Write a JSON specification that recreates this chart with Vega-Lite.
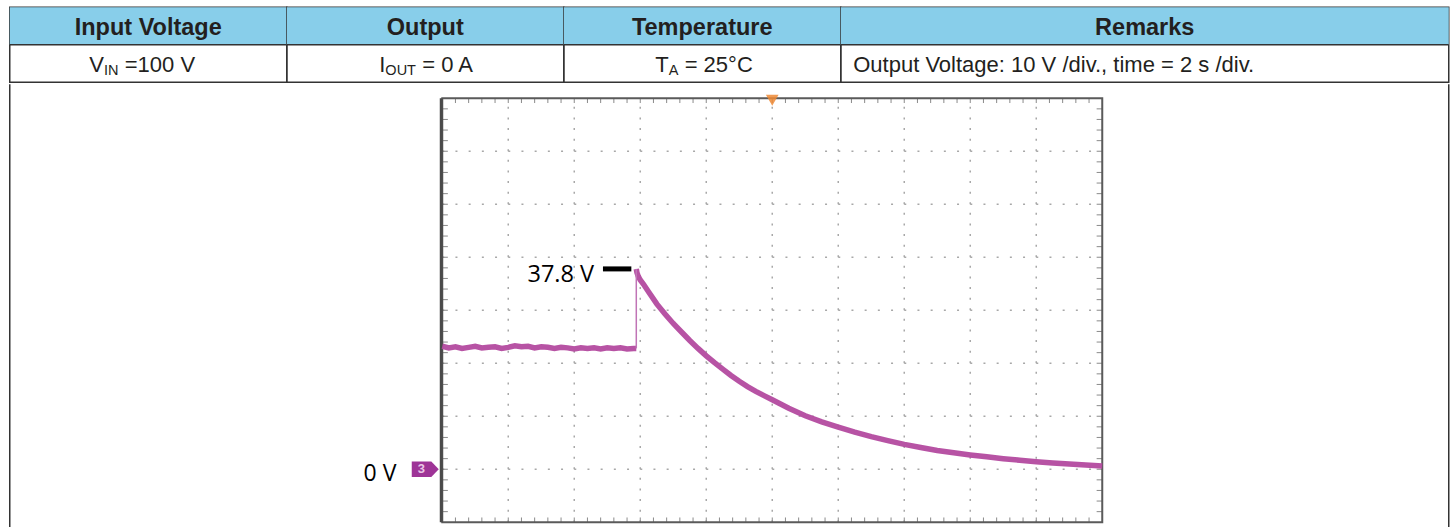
{
  "$schema": "https://vega.github.io/schema/vega-lite/v6.json",
  "padding": {"left": 7.75, "top": 6.25, "right": 0, "bottom": 0},
  "background": "white",
  "spacing": 0,
  "config": {"view": {"stroke": null}, "text": {"font": "Liberation Sans", "color": "#231f20"}},
  "datasets": {
    "table": [
      {"col": 1, "header": "Input Voltage", "main": "V", "sub": "IN", "rest": "=100 V"},
      {"col": 2, "header": "Output", "main": "I", "sub": "OUT", "rest": "= 0 A"},
      {"col": 3, "header": "Temperature", "main": "T", "sub": "A", "rest": "= 25°C"},
      {"col": 4, "header": "Remarks", "main": "Output Voltage: 10 V /div., time = 2 s /div.", "sub": "", "rest": ""}
    ],
    "trace": [
      {"t": 0, "v": 23.2, "part": "flat"}, {"t": 0.2, "v": 22.9, "part": "flat"}, {"t": 0.4, "v": 23.1, "part": "flat"},
      {"t": 0.6, "v": 22.8, "part": "flat"}, {"t": 0.8, "v": 23.0, "part": "flat"}, {"t": 1.0, "v": 23.2, "part": "flat"},
      {"t": 1.2, "v": 22.9, "part": "flat"}, {"t": 1.4, "v": 23.0, "part": "flat"}, {"t": 1.6, "v": 23.1, "part": "flat"},
      {"t": 1.8, "v": 22.8, "part": "flat"}, {"t": 2.0, "v": 23.0, "part": "flat"}, {"t": 2.2, "v": 23.3, "part": "flat"},
      {"t": 2.4, "v": 23.1, "part": "flat"}, {"t": 2.6, "v": 23.2, "part": "flat"}, {"t": 2.8, "v": 22.9, "part": "flat"},
      {"t": 3.0, "v": 23.1, "part": "flat"}, {"t": 3.2, "v": 23.0, "part": "flat"}, {"t": 3.4, "v": 22.8, "part": "flat"},
      {"t": 3.6, "v": 23.0, "part": "flat"}, {"t": 3.8, "v": 22.9, "part": "flat"}, {"t": 4.0, "v": 22.7, "part": "flat"},
      {"t": 4.2, "v": 22.9, "part": "flat"}, {"t": 4.4, "v": 22.8, "part": "flat"}, {"t": 4.6, "v": 22.9, "part": "flat"},
      {"t": 4.8, "v": 22.7, "part": "flat"}, {"t": 5.0, "v": 22.9, "part": "flat"}, {"t": 5.2, "v": 22.8, "part": "flat"},
      {"t": 5.4, "v": 22.9, "part": "flat"}, {"t": 5.6, "v": 22.7, "part": "flat"}, {"t": 5.8, "v": 22.8, "part": "flat"},
      {"t": 5.88, "v": 22.8, "part": "flat"},
      {"t": 5.88, "v": 22.8, "part": "rise"}, {"t": 5.88, "v": 37.8, "part": "rise"},
      {"t": 5.88, "v": 37.8, "part": "decay"}, {"t": 5.9, "v": 37.1, "part": "decay"}, {"t": 5.94, "v": 36.4, "part": "decay"},
      {"t": 6.0, "v": 35.7, "part": "decay"}, {"t": 6.1, "v": 34.9, "part": "decay"}, {"t": 6.25, "v": 33.5, "part": "decay"},
      {"t": 6.5, "v": 31.2, "part": "decay"}, {"t": 6.75, "v": 29.3, "part": "decay"}, {"t": 7.0, "v": 27.5, "part": "decay"},
      {"t": 7.25, "v": 25.9, "part": "decay"}, {"t": 7.5, "v": 24.3, "part": "decay"}, {"t": 7.75, "v": 22.8, "part": "decay"},
      {"t": 8.0, "v": 21.4, "part": "decay"}, {"t": 8.25, "v": 20.1, "part": "decay"}, {"t": 8.5, "v": 18.9, "part": "decay"},
      {"t": 8.75, "v": 17.7, "part": "decay"}, {"t": 9.0, "v": 16.6, "part": "decay"}, {"t": 9.25, "v": 15.6, "part": "decay"},
      {"t": 9.5, "v": 14.7, "part": "decay"}, {"t": 9.75, "v": 13.9, "part": "decay"}, {"t": 10.0, "v": 13.1, "part": "decay"},
      {"t": 10.5, "v": 11.5, "part": "decay"}, {"t": 11.0, "v": 10.1, "part": "decay"}, {"t": 11.5, "v": 8.95, "part": "decay"},
      {"t": 12.0, "v": 7.95, "part": "decay"}, {"t": 12.5, "v": 7.0, "part": "decay"}, {"t": 13.0, "v": 6.15, "part": "decay"},
      {"t": 13.5, "v": 5.4, "part": "decay"}, {"t": 14.0, "v": 4.7, "part": "decay"}, {"t": 14.5, "v": 4.1, "part": "decay"},
      {"t": 15.0, "v": 3.55, "part": "decay"}, {"t": 15.5, "v": 3.1, "part": "decay"}, {"t": 16.0, "v": 2.7, "part": "decay"},
      {"t": 16.5, "v": 2.35, "part": "decay"}, {"t": 17.0, "v": 2.0, "part": "decay"}, {"t": 17.5, "v": 1.7, "part": "decay"},
      {"t": 18.0, "v": 1.42, "part": "decay"}, {"t": 18.5, "v": 1.18, "part": "decay"}, {"t": 19.0, "v": 0.97, "part": "decay"},
      {"t": 19.5, "v": 0.78, "part": "decay"}, {"t": 20.0, "v": 0.6, "part": "decay"}
    ],
    "vgrid": [{"t": 2}, {"t": 4}, {"t": 6}, {"t": 8}, {"t": 10}, {"t": 12}, {"t": 14}, {"t": 16}, {"t": 18}],
    "hgrid": [{"v": 0}, {"v": 10}, {"v": 20}, {"v": 30}, {"v": 40}, {"v": 50}, {"v": 60}],
    "xticks": [
      {"t": 0.4}, {"t": 0.8}, {"t": 1.2}, {"t": 1.6}, {"t": 2}, {"t": 2.4}, {"t": 2.8}, {"t": 3.2}, {"t": 3.6}, {"t": 4},
      {"t": 4.4}, {"t": 4.8}, {"t": 5.2}, {"t": 5.6}, {"t": 6}, {"t": 6.4}, {"t": 6.8}, {"t": 7.2}, {"t": 7.6}, {"t": 8},
      {"t": 8.4}, {"t": 8.8}, {"t": 9.2}, {"t": 9.6}, {"t": 10}, {"t": 10.4}, {"t": 10.8}, {"t": 11.2}, {"t": 11.6}, {"t": 12},
      {"t": 12.4}, {"t": 12.8}, {"t": 13.2}, {"t": 13.6}, {"t": 14}, {"t": 14.4}, {"t": 14.8}, {"t": 15.2}, {"t": 15.6}, {"t": 16},
      {"t": 16.4}, {"t": 16.8}, {"t": 17.2}, {"t": 17.6}, {"t": 18}, {"t": 18.4}, {"t": 18.8}, {"t": 19.2}, {"t": 19.6}
    ],
    "yticks": [
      {"v": -8}, {"v": -6}, {"v": -4}, {"v": -2}, {"v": 0}, {"v": 2}, {"v": 4}, {"v": 6}, {"v": 8}, {"v": 10},
      {"v": 12}, {"v": 14}, {"v": 16}, {"v": 18}, {"v": 20}, {"v": 22}, {"v": 24}, {"v": 26}, {"v": 28}, {"v": 30},
      {"v": 32}, {"v": 34}, {"v": 36}, {"v": 38}, {"v": 40}, {"v": 42}, {"v": 44}, {"v": 46}, {"v": 48}, {"v": 50},
      {"v": 52}, {"v": 54}, {"v": 56}, {"v": 58}, {"v": 60}, {"v": 62}, {"v": 64}, {"v": 66}, {"v": 68}
    ],
    "labels": [{"label": "37.8 V", "v": 37.8}, {"label": "0 V", "v": 0}],
    "trigger": [{"t": 10}]
  },
  "vconcat": [
    {
      "spacing": 0,
      "bounds": "flush",
      "hconcat": [
        {
          "width": 277, "height": 75,
          "view": {"stroke": "#333333", "strokeWidth": 1.5},
          "data": {"name": "table"},
          "transform": [{"filter": "datum.col === 1"}],
          "layer": [
            {"mark": {"type": "rect", "fill": "#88ceea"},
             "encoding": {"x": {"datum": 0, "type": "quantitative", "scale": {"domain": [0, 1], "nice": false, "zero": false}, "axis": null}, "x2": {"datum": 1},
                          "y": {"datum": 0, "type": "quantitative", "scale": {"domain": [0, 2], "reverse": true, "nice": false, "zero": false}, "axis": null}, "y2": {"datum": 1}}},
            {"mark": {"type": "rule", "color": "#333333", "strokeWidth": 1.5},
             "encoding": {"x": {"datum": 0, "type": "quantitative"}, "x2": {"datum": 1}, "y": {"datum": 1, "type": "quantitative"}}},
            {"mark": {"type": "text", "fontSize": 23.5, "fontWeight": "bold", "baseline": "alphabetic", "dy": 9.25},
             "encoding": {"x": {"datum": 0.5, "type": "quantitative"}, "y": {"datum": 0.5, "type": "quantitative"}, "text": {"field": "header"}}},
            {"mark": {"type": "text", "fontSize": 22, "align": "left", "baseline": "alphabetic", "dx": -59, "dy": 8.5},
             "encoding": {"x": {"datum": 0.5, "type": "quantitative"}, "y": {"datum": 1.5, "type": "quantitative"}, "text": {"field": "main"}}},
            {"mark": {"type": "text", "fontSize": 14.5, "align": "left", "baseline": "alphabetic", "dx": -44.3, "dy": 11.75},
             "encoding": {"x": {"datum": 0.5, "type": "quantitative"}, "y": {"datum": 1.5, "type": "quantitative"}, "text": {"field": "sub"}}},
            {"mark": {"type": "text", "fontSize": 22, "align": "left", "baseline": "alphabetic", "dx": -23.5, "dy": 8.5},
             "encoding": {"x": {"datum": 0.5, "type": "quantitative"}, "y": {"datum": 1.5, "type": "quantitative"}, "text": {"field": "rest"}}}
          ]
        },
        {
          "width": 277, "height": 75,
          "view": {"stroke": "#333333", "strokeWidth": 1.5},
          "data": {"name": "table"},
          "transform": [{"filter": "datum.col === 2"}],
          "layer": [
            {"mark": {"type": "rect", "fill": "#88ceea"},
             "encoding": {"x": {"datum": 0, "type": "quantitative", "scale": {"domain": [0, 1], "nice": false, "zero": false}, "axis": null}, "x2": {"datum": 1},
                          "y": {"datum": 0, "type": "quantitative", "scale": {"domain": [0, 2], "reverse": true, "nice": false, "zero": false}, "axis": null}, "y2": {"datum": 1}}},
            {"mark": {"type": "rule", "color": "#333333", "strokeWidth": 1.5},
             "encoding": {"x": {"datum": 0, "type": "quantitative"}, "x2": {"datum": 1}, "y": {"datum": 1, "type": "quantitative"}}},
            {"mark": {"type": "text", "fontSize": 23.5, "fontWeight": "bold", "baseline": "alphabetic", "dy": 9.25},
             "encoding": {"x": {"datum": 0.5, "type": "quantitative"}, "y": {"datum": 0.5, "type": "quantitative"}, "text": {"field": "header"}}},
            {"mark": {"type": "text", "fontSize": 22, "align": "left", "baseline": "alphabetic", "dx": -46, "dy": 8.5},
             "encoding": {"x": {"datum": 0.5, "type": "quantitative"}, "y": {"datum": 1.5, "type": "quantitative"}, "text": {"field": "main"}}},
            {"mark": {"type": "text", "fontSize": 14.5, "align": "left", "baseline": "alphabetic", "dx": -39.9, "dy": 11.75},
             "encoding": {"x": {"datum": 0.5, "type": "quantitative"}, "y": {"datum": 1.5, "type": "quantitative"}, "text": {"field": "sub"}}},
            {"mark": {"type": "text", "fontSize": 22, "align": "left", "baseline": "alphabetic", "dx": -3, "dy": 8.5},
             "encoding": {"x": {"datum": 0.5, "type": "quantitative"}, "y": {"datum": 1.5, "type": "quantitative"}, "text": {"field": "rest"}}}
          ]
        },
        {
          "width": 277, "height": 75,
          "view": {"stroke": "#333333", "strokeWidth": 1.5},
          "data": {"name": "table"},
          "transform": [{"filter": "datum.col === 3"}],
          "layer": [
            {"mark": {"type": "rect", "fill": "#88ceea"},
             "encoding": {"x": {"datum": 0, "type": "quantitative", "scale": {"domain": [0, 1], "nice": false, "zero": false}, "axis": null}, "x2": {"datum": 1},
                          "y": {"datum": 0, "type": "quantitative", "scale": {"domain": [0, 2], "reverse": true, "nice": false, "zero": false}, "axis": null}, "y2": {"datum": 1}}},
            {"mark": {"type": "rule", "color": "#333333", "strokeWidth": 1.5},
             "encoding": {"x": {"datum": 0, "type": "quantitative"}, "x2": {"datum": 1}, "y": {"datum": 1, "type": "quantitative"}}},
            {"mark": {"type": "text", "fontSize": 23.5, "fontWeight": "bold", "baseline": "alphabetic", "dy": 9.25},
             "encoding": {"x": {"datum": 0.5, "type": "quantitative"}, "y": {"datum": 0.5, "type": "quantitative"}, "text": {"field": "header"}}},
            {"mark": {"type": "text", "fontSize": 22, "align": "left", "baseline": "alphabetic", "dx": -47, "dy": 8.5},
             "encoding": {"x": {"datum": 0.5, "type": "quantitative"}, "y": {"datum": 1.5, "type": "quantitative"}, "text": {"field": "main"}}},
            {"mark": {"type": "text", "fontSize": 14.5, "align": "left", "baseline": "alphabetic", "dx": -33.6, "dy": 11.75},
             "encoding": {"x": {"datum": 0.5, "type": "quantitative"}, "y": {"datum": 1.5, "type": "quantitative"}, "text": {"field": "sub"}}},
            {"mark": {"type": "text", "fontSize": 22, "align": "left", "baseline": "alphabetic", "dx": -17.6, "dy": 8.5},
             "encoding": {"x": {"datum": 0.5, "type": "quantitative"}, "y": {"datum": 1.5, "type": "quantitative"}, "text": {"field": "rest"}}}
          ]
        },
        {
          "width": 608, "height": 75,
          "view": {"stroke": "#333333", "strokeWidth": 1.5},
          "data": {"name": "table"},
          "transform": [{"filter": "datum.col === 4"}],
          "layer": [
            {"mark": {"type": "rect", "fill": "#88ceea"},
             "encoding": {"x": {"datum": 0, "type": "quantitative", "scale": {"domain": [0, 1], "nice": false, "zero": false}, "axis": null}, "x2": {"datum": 1},
                          "y": {"datum": 0, "type": "quantitative", "scale": {"domain": [0, 2], "reverse": true, "nice": false, "zero": false}, "axis": null}, "y2": {"datum": 1}}},
            {"mark": {"type": "rule", "color": "#333333", "strokeWidth": 1.5},
             "encoding": {"x": {"datum": 0, "type": "quantitative"}, "x2": {"datum": 1}, "y": {"datum": 1, "type": "quantitative"}}},
            {"mark": {"type": "text", "fontSize": 23.5, "fontWeight": "bold", "baseline": "alphabetic", "dy": 9.25},
             "encoding": {"x": {"datum": 0.5, "type": "quantitative"}, "y": {"datum": 0.5, "type": "quantitative"}, "text": {"field": "header"}}},
            {"mark": {"type": "text", "fontSize": 22, "align": "left", "baseline": "alphabetic", "dx": 12.5, "dy": 8.5},
             "encoding": {"x": {"datum": 0, "type": "quantitative"}, "y": {"datum": 1.5, "type": "quantitative"}, "text": {"field": "main"}}}
          ]
        }
      ]
    },
    {
      "width": 1439, "height": 445,
      "layer": [
        {"data": {"name": "trigger"},
         "mark": {"type": "rule", "color": "#333333", "strokeWidth": 1.5},
         "encoding": {"x": {"datum": -13.1061, "type": "quantitative", "scale": {"domain": [-13.1061, 30.5], "nice": false, "zero": false}, "axis": null},
                      "y": {"datum": -11.3208, "type": "quantitative", "scale": {"domain": [-11.3208, 72.6415], "nice": false, "zero": false}, "axis": null},
                      "y2": {"datum": 72.6415}}},
        {"data": {"name": "trigger"},
         "mark": {"type": "rule", "color": "#333333", "strokeWidth": 1.5},
         "encoding": {"x": {"datum": 30.5, "type": "quantitative"}, "y": {"datum": -11.3208, "type": "quantitative"}, "y2": {"datum": 72.6415}}},
        {"data": {"name": "vgrid"},
         "mark": {"type": "rule", "color": "#a8a8a8", "strokeWidth": 1.5, "strokeDash": [2, 8.6]},
         "encoding": {"x": {"field": "t", "type": "quantitative"}, "y": {"datum": -10, "type": "quantitative"}, "y2": {"datum": 70}}},
        {"data": {"name": "hgrid"},
         "mark": {"type": "rule", "color": "#a8a8a8", "strokeWidth": 1.5, "strokeDash": [2, 11.2]},
         "encoding": {"y": {"field": "v", "type": "quantitative"}, "x": {"datum": 0, "type": "quantitative"}, "x2": {"datum": 20}}},
        {"data": {"name": "xticks"},
         "mark": {"type": "rule", "color": "#8a8a8a", "strokeWidth": 1},
         "encoding": {"x": {"field": "t", "type": "quantitative"}, "y": {"datum": 70, "type": "quantitative"}, "y2": {"datum": 69.1}}},
        {"data": {"name": "xticks"},
         "mark": {"type": "rule", "color": "#8a8a8a", "strokeWidth": 1},
         "encoding": {"x": {"field": "t", "type": "quantitative"}, "y": {"datum": -10, "type": "quantitative"}, "y2": {"datum": -9.1}}},
        {"data": {"name": "yticks"},
         "mark": {"type": "rule", "color": "#8a8a8a", "strokeWidth": 1},
         "encoding": {"y": {"field": "v", "type": "quantitative"}, "x": {"datum": 0, "type": "quantitative"}, "x2": {"datum": 0.17}}},
        {"data": {"name": "yticks"},
         "mark": {"type": "rule", "color": "#8a8a8a", "strokeWidth": 1},
         "encoding": {"y": {"field": "v", "type": "quantitative"}, "x": {"datum": 20, "type": "quantitative"}, "x2": {"datum": 19.83}}},
        {"data": {"name": "trigger"},
         "mark": {"type": "rect", "fill": "transparent", "stroke": "#5a5a5a", "strokeWidth": 2},
         "encoding": {"x": {"datum": 0, "type": "quantitative"}, "x2": {"datum": 20}, "y": {"datum": -10, "type": "quantitative"}, "y2": {"datum": 70}}},
        {"data": {"name": "trigger"},
         "mark": {"type": "rule", "color": "#4a4a4a", "strokeWidth": 3},
         "encoding": {"x": {"datum": -0.03, "type": "quantitative"}, "y": {"datum": -10, "type": "quantitative"}, "y2": {"datum": 70}}},
        {"data": {"name": "trace"},
         "transform": [{"filter": "datum.part !== 'rise'"}],
         "mark": {"type": "line", "color": "#b34a9f", "strokeWidth": 5.5, "opacity": 0.95},
         "encoding": {"x": {"field": "t", "type": "quantitative"}, "y": {"field": "v", "type": "quantitative"}, "detail": {"field": "part"}}},
        {"data": {"name": "trace"},
         "transform": [{"filter": "datum.part === 'rise'"}],
         "mark": {"type": "line", "color": "#c074b6", "strokeWidth": 1.5},
         "encoding": {"x": {"field": "t", "type": "quantitative"}, "y": {"field": "v", "type": "quantitative"}}},
        {"data": {"name": "trigger"},
         "mark": {"type": "point", "shape": "triangle-down", "filled": true, "color": "#ee8a35", "size": 160, "yOffset": 2, "opacity": 0.85},
         "encoding": {"x": {"field": "t", "type": "quantitative"}, "y": {"datum": 70, "type": "quantitative"}}},
        {"data": {"name": "labels"},
         "transform": [{"filter": "datum.label === '37.8 V'"}],
         "mark": {"type": "rule", "color": "#000000", "strokeWidth": 5},
         "encoding": {"x": {"datum": 4.87, "type": "quantitative"}, "x2": {"datum": 5.73}, "y": {"field": "v", "type": "quantitative"}}},
        {"data": {"name": "labels"},
         "transform": [{"filter": "datum.label === '37.8 V'"}],
         "mark": {"type": "text", "font": "Open Sans", "fontSize": 23.5, "color": "#000000", "align": "right", "baseline": "alphabetic", "dy": 13},
         "encoding": {"x": {"datum": 4.6, "type": "quantitative"}, "y": {"field": "v", "type": "quantitative"}, "text": {"field": "label"}}},
        {"data": {"name": "labels"},
         "transform": [{"filter": "datum.label === '0 V'"}],
         "mark": {"type": "point", "shape": "M-1,-0.58L0.45,-0.58L1,0L0.45,0.58L-1,0.58Z", "filled": true, "color": "#9e3497", "size": 729, "opacity": 1},
         "encoding": {"x": {"datum": -0.515, "type": "quantitative"}, "y": {"field": "v", "type": "quantitative"}}},
        {"data": {"name": "labels"},
         "transform": [{"filter": "datum.label === '0 V'"}],
         "mark": {"type": "text", "fontSize": 13, "fontWeight": "bold", "color": "#e9c6e6", "align": "center", "baseline": "middle", "dx": -1},
         "encoding": {"x": {"datum": -0.6, "type": "quantitative"}, "y": {"field": "v", "type": "quantitative"}, "text": {"value": "3"}}},
        {"data": {"name": "labels"},
         "transform": [{"filter": "datum.label === '0 V'"}],
         "mark": {"type": "text", "font": "Open Sans", "fontSize": 23, "color": "#000000", "align": "right", "baseline": "alphabetic", "dy": 12},
         "encoding": {"x": {"datum": -1.39, "type": "quantitative"}, "y": {"field": "v", "type": "quantitative"}, "text": {"field": "label"}}}
      ]
    }
  ]
}
